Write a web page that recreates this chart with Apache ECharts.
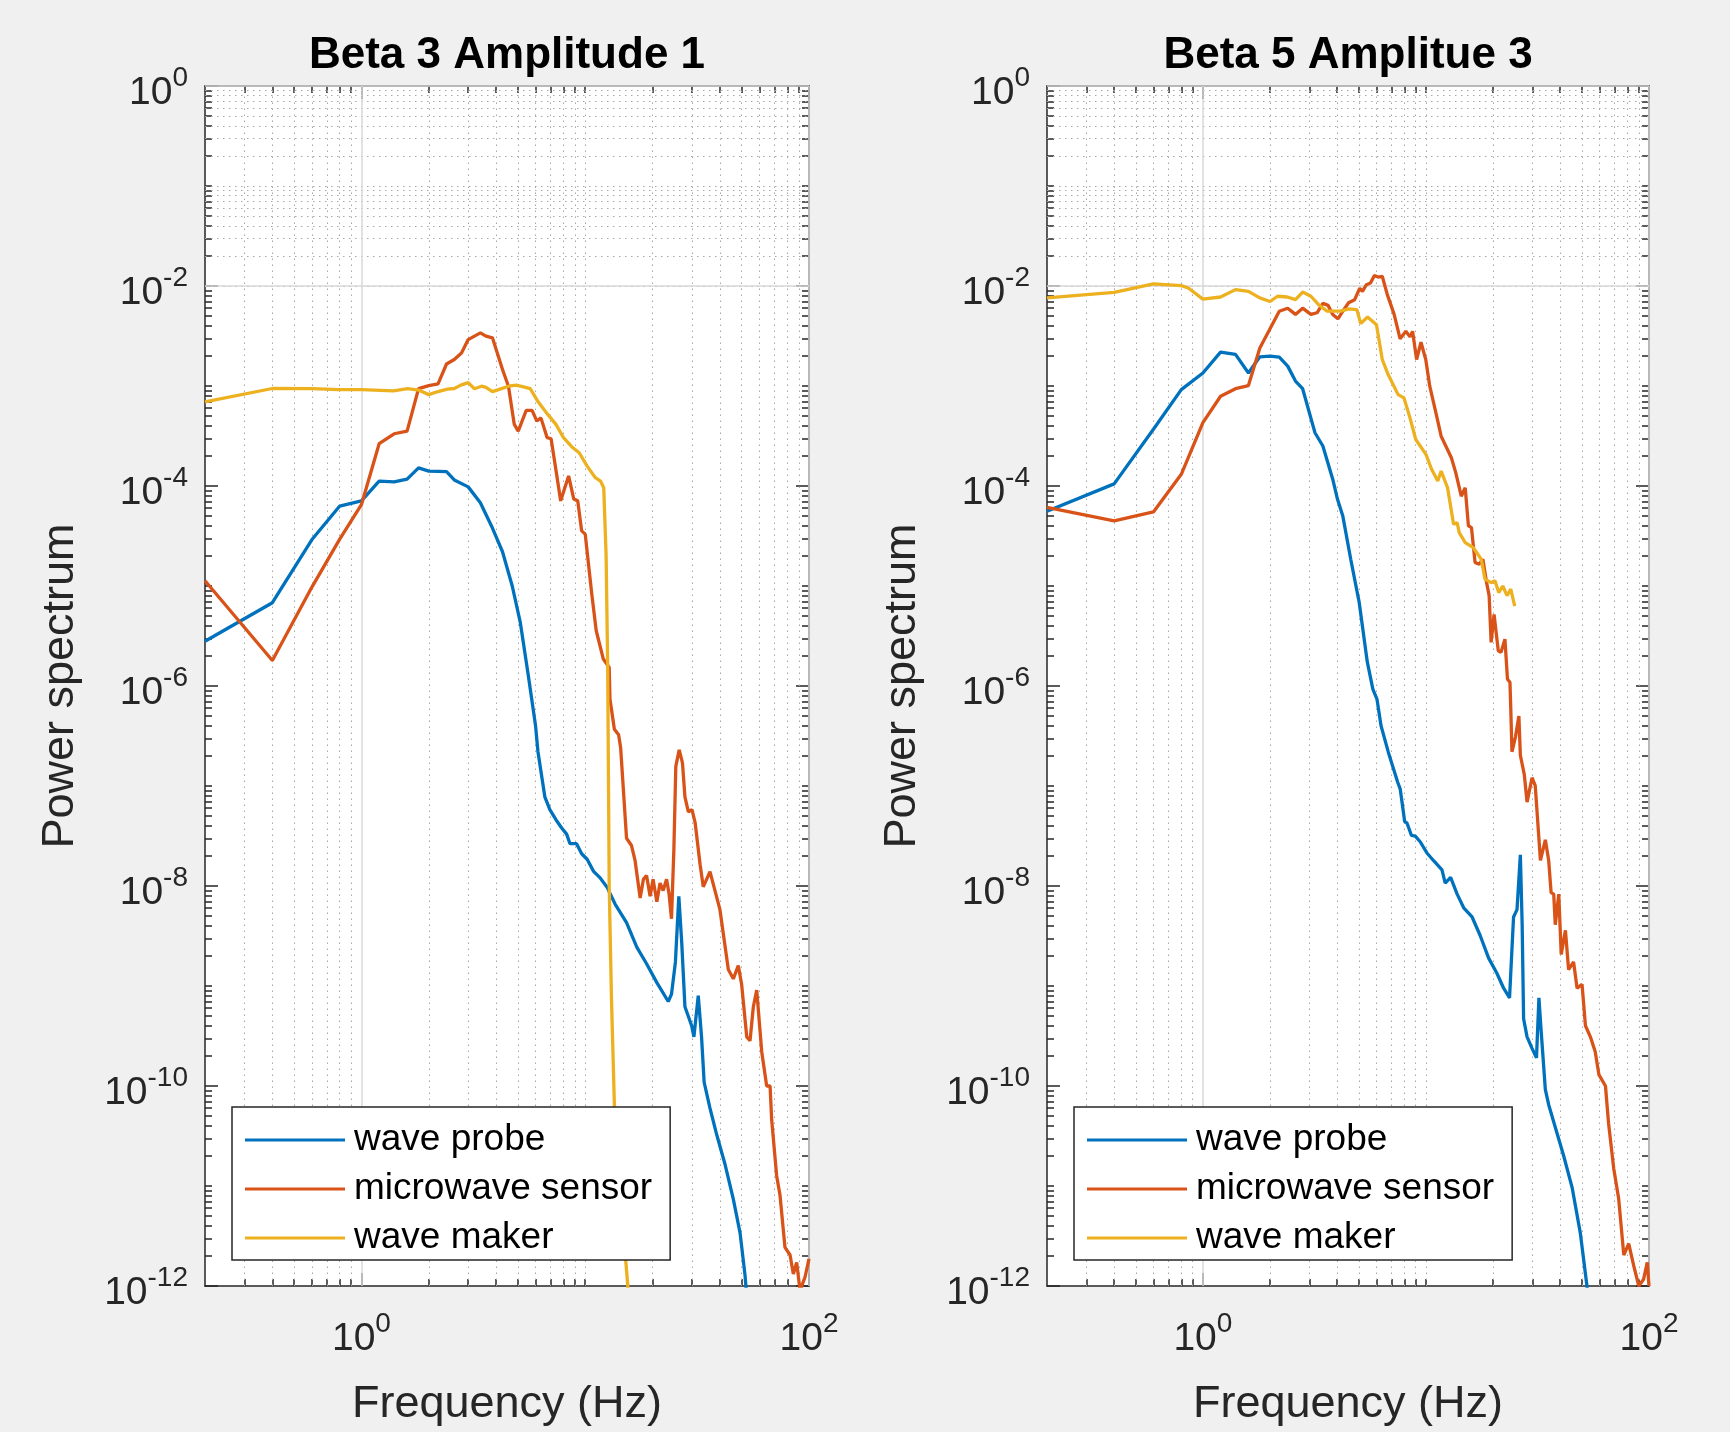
<!DOCTYPE html>
<html>
<head>
<meta charset="utf-8">
<script src="https://cdn.jsdelivr.net/npm/echarts@6/dist/echarts.min.js"></script>
<style>
html,body{margin:0;padding:0;background:#f0f0f0;}
#chart{width:1730px;height:1432px;}
</style>
</head>
<body>
<div id="chart"></div>
<script>
// ---------- texts ----------
const titles = ['Beta 3 Amplitude 1', 'Beta 5 Amplitue 3'];
const seriesNames = ['wave probe', 'microwave sensor', 'wave maker'];
const xAxisName = 'Frequency (Hz)';
const yAxisName = 'Power spectrum';

// ---------- tick labels ----------
const xTickLabels = [1, 100];
const yTickLabels = [1e-12, 1e-10, 1e-8, 1e-6, 1e-4, 1e-2, 1];

// ---------- Beta 3 Amplitude 1 ----------
const b3ProbeFreq = [0.2, 0.4, 0.6, 0.8, 1.0, 1.2, 1.4, 1.6, 1.8, 2.0, 2.4, 2.6, 3.0, 3.4, 3.85, 4.27, 4.72, 5.13, 5.56, 6.0, 6.15, 6.6, 6.95, 7.4, 7.85, 8.26, 8.55, 9.15, 9.64, 10.2, 10.9, 11.6, 12.5, 13.6, 15.3, 17.0, 18.8, 20.9, 23.5, 24.3, 25.3, 26.2, 27.0, 27.9, 29.9, 30.6, 32.0, 33.1, 34.0, 36.1, 38.7, 42.2, 45.9, 49.2, 51.8, 54.0];
const b3ProbePower = [2.8e-6, 6.8e-6, 2.9e-5, 6.3e-5, 7.1e-5, 1.12e-4, 1.1e-4, 1.17e-4, 1.52e-4, 1.41e-4, 1.39e-4, 1.15e-4, 9.8e-5, 6.8e-5, 3.8e-5, 2.2e-5, 1.0e-5, 4.3e-6, 1.3e-6, 4.0e-7, 2.2e-7, 7.8e-8, 5.8e-8, 4.6e-8, 3.8e-8, 3.3e-8, 2.65e-8, 2.65e-8, 2.1e-8, 1.85e-8, 1.4e-8, 1.22e-8, 9.8e-9, 6.6e-9, 4.3e-9, 2.45e-9, 1.67e-9, 1.08e-9, 7.0e-10, 8.3e-10, 1.74e-9, 7.9e-9, 2.7e-9, 6.2e-10, 4.0e-10, 3.1e-10, 8.0e-10, 3.1e-10, 1.09e-10, 6.0e-11, 3.25e-11, 1.63e-11, 7.4e-12, 3.4e-12, 1.27e-12, 4e-13];

const b3MicroFreq = [0.2, 0.4, 0.6, 0.8, 1.0, 1.2, 1.4, 1.6, 1.8, 2.0, 2.2, 2.4, 2.6, 2.8, 3.0, 3.4, 3.6, 3.85, 4.27, 4.54, 4.82, 5.02, 5.45, 5.79, 6.08, 6.34, 6.76, 7.04, 7.39, 7.77, 8.43, 8.89, 9.26, 9.64, 10.0, 10.7, 11.2, 12.05, 12.8, 12.9, 13.5, 14.1, 14.4, 15.3, 16.1, 16.7, 17.6, 18.2, 18.8, 19.5, 20.1, 20.9, 21.6, 22.3, 23.1, 23.7, 24.3, 24.9, 25.4, 26.3, 27.2, 27.9, 28.9, 30.0, 31.0, 32.6, 33.7, 36.1, 38.0, 40.0, 43.6, 45.9, 48.3, 50.0, 52.7, 54.5, 56.4, 58.4, 61.5, 64.7, 67.0, 68.1, 71.7, 74.2, 78.1, 82.3, 85.1, 88.1, 91.2, 96.0, 100];
const b3MicroPower = [1.13e-5, 1.8e-6, 9.7e-6, 2.94e-5, 6.5e-5, 2.65e-4, 3.33e-4, 3.54e-4, 9.4e-4, 1.01e-3, 1.05e-3, 1.66e-3, 1.84e-3, 2.14e-3, 2.91e-3, 3.4e-3, 3.15e-3, 3.03e-3, 1.46e-3, 9.95e-4, 4.13e-4, 3.54e-4, 5.7e-4, 5.7e-4, 4.46e-4, 4.8e-4, 3.04e-4, 2.97e-4, 1.47e-4, 7.1e-5, 1.26e-4, 7.4e-5, 7.1e-5, 3.56e-5, 3.3e-5, 8.3e-6, 3.57e-6, 1.86e-6, 1.53e-6, 7.4e-7, 3.7e-7, 3.26e-7, 2.41e-7, 3.0e-8, 2.54e-8, 1.8e-8, 7.6e-9, 1.17e-8, 1.27e-8, 7.9e-9, 1.17e-8, 6.95e-9, 1.07e-8, 9.0e-9, 1.17e-8, 8.3e-9, 4.7e-9, 2.33e-8, 1.57e-7, 2.3e-7, 1.7e-7, 7.8e-8, 5.5e-8, 5.8e-8, 4.27e-8, 1.65e-8, 9.8e-9, 1.39e-8, 9.0e-9, 5.8e-9, 1.46e-9, 1.18e-9, 1.6e-9, 1.04e-9, 3.1e-10, 2.83e-10, 6.2e-10, 9.1e-10, 2.19e-10, 1.0e-10, 1.0e-10, 4.6e-11, 1.26e-11, 8.1e-12, 2.43e-12, 2.04e-12, 1.32e-12, 1.72e-12, 9e-13, 1.23e-12, 1.87e-12];

const b3MakerFreq = [0.2, 0.4, 0.6, 0.79, 1.0, 1.39, 1.61, 1.8, 2.0, 2.2, 2.42, 2.6, 2.78, 3.0, 3.2, 3.44, 3.6, 3.85, 4.1, 4.54, 4.92, 5.3, 5.68, 6.17, 6.8, 7.4, 8.0, 8.7, 9.4, 10.2, 11.1, 11.7, 12.1, 12.4, 12.6, 12.8, 13.1, 13.5, 14.4, 15.5, 16.2];
const b3MakerPower = [6.95e-4, 9.44e-4, 9.4e-4, 9.2e-4, 9.2e-4, 8.95e-4, 9.4e-4, 9.1e-4, 8.2e-4, 8.8e-4, 9.3e-4, 9.44e-4, 1.02e-3, 1.08e-3, 9.4e-4, 9.95e-4, 9.7e-4, 8.8e-4, 9.2e-4, 9.95e-4, 1.02e-3, 9.8e-4, 9.4e-4, 6.9e-4, 5.2e-4, 4.13e-4, 3.04e-4, 2.47e-4, 2.15e-4, 1.58e-4, 1.21e-4, 1.12e-4, 9.6e-5, 2.0e-5, 1.6e-6, 1.0e-8, 7.6e-10, 6.5e-11, 7.6e-12, 1e-12, 3e-13];

// ---------- Beta 5 Amplitue 3 ----------
const b5ProbeFreq = [0.2, 0.4, 0.6, 0.8, 1.0, 1.2, 1.4, 1.6, 1.8, 2.0, 2.2, 2.4, 2.6, 2.8, 3.18, 3.45, 3.82, 4.01, 4.24, 4.6, 5.02, 5.46, 5.78, 6.03, 6.29, 6.78, 7.47, 7.67, 8.03, 8.22, 8.61, 8.96, 9.42, 10.1, 10.8, 11.8, 12.2, 12.9, 13.8, 14.8, 16.1, 17.5, 19.1, 20.8, 22.3, 23.7, 24.7, 25.6, 26.5, 27.0, 27.4, 28.4, 29.9, 31.3, 32.1, 32.8, 34.3, 35.5, 38.0, 41.4, 45.2, 49.2, 52.7, 55.0];
const b5ProbePower = [5.6e-5, 1.05e-4, 3.7e-4, 9.2e-4, 1.35e-3, 2.18e-3, 2.07e-3, 1.35e-3, 1.96e-3, 1.99e-3, 1.94e-3, 1.58e-3, 1.12e-3, 9.4e-4, 3.41e-4, 2.51e-4, 1.17e-4, 7.4e-5, 5.0e-5, 1.85e-5, 6.85e-6, 1.73e-6, 9.3e-7, 7.4e-7, 4.0e-7, 2.18e-7, 1.09e-7, 9.3e-8, 4.4e-8, 4.27e-8, 3.2e-8, 3.15e-8, 2.77e-8, 2.14e-8, 1.8e-8, 1.45e-8, 1.07e-8, 1.22e-8, 8.3e-9, 6.0e-9, 4.9e-9, 3.2e-9, 1.9e-9, 1.34e-9, 9.5e-10, 7.6e-10, 4.9e-9, 5.8e-9, 2.05e-8, 4.1e-9, 4.7e-10, 3.1e-10, 2.38e-10, 1.91e-10, 7.6e-10, 3.7e-10, 9.2e-11, 6.5e-11, 3.87e-11, 2.02e-11, 9.7e-12, 3.4e-12, 1.0e-12, 4e-13];

const b5MicroFreq = [0.2, 0.4, 0.6, 0.8, 1.0, 1.2, 1.4, 1.6, 1.8, 2.2, 2.4, 2.6, 2.8, 3.05, 3.25, 3.45, 3.64, 3.82, 4.03, 4.24, 4.5, 4.79, 5.05, 5.19, 5.41, 5.64, 5.87, 6.11, 6.37, 6.71, 7.2, 7.66, 8.13, 8.48, 8.71, 9.08, 9.5, 9.98, 10.4, 11.0, 11.7, 13.0, 13.6, 14.4, 15.0, 15.5, 16.0, 16.6, 17.3, 18.0, 18.7, 19.2, 19.6, 20.2, 21.1, 21.7, 22.6, 23.2, 23.8, 24.0, 24.3, 25.2, 26.1, 26.5, 27.6, 28.4, 29.9, 30.9, 32.6, 34.3, 35.5, 36.4, 37.4, 38.0, 39.4, 40.4, 42.2, 43.6, 45.9, 47.6, 50.1, 51.9, 54.6, 57.4, 59.6, 63.8, 65.9, 69.5, 73.1, 77.1, 81.1, 85.5, 90.0, 94.6, 98.2, 100];
const b5MicroPower = [6.1e-5, 4.48e-5, 5.5e-5, 1.31e-4, 4.3e-4, 7.9e-4, 9.4e-4, 1.01e-3, 2.4e-3, 5.6e-3, 6.0e-3, 5.2e-3, 6.0e-3, 5.2e-3, 5.4e-3, 6.7e-3, 6.4e-3, 5.2e-3, 4.7e-3, 5.6e-3, 6.8e-3, 7.3e-3, 9.5e-3, 8.85e-3, 1.03e-2, 1.07e-2, 1.27e-2, 1.23e-2, 1.25e-2, 8.2e-3, 5.2e-3, 2.96e-3, 3.52e-3, 3.1e-3, 3.52e-3, 1.84e-3, 2.74e-3, 1.84e-3, 9.95e-4, 5.8e-4, 3.15e-4, 1.92e-4, 1.36e-4, 7.9e-5, 9.6e-5, 4.0e-5, 3.84e-5, 1.72e-5, 1.65e-5, 1.85e-5, 1.08e-5, 8.0e-6, 2.73e-6, 5.2e-6, 2.25e-6, 2.17e-6, 2.94e-6, 1.17e-6, 1.09e-6, 6.0e-7, 2.2e-7, 3.1e-7, 5.0e-7, 2.03e-7, 1.3e-7, 6.9e-8, 1.21e-7, 1.01e-7, 1.8e-8, 2.9e-8, 1.8e-8, 8.6e-9, 8.3e-9, 4.1e-9, 8.3e-9, 2.07e-9, 3.6e-9, 1.46e-9, 1.74e-9, 9.5e-10, 1.04e-9, 4.0e-10, 3.1e-10, 2.2e-10, 1.3e-10, 1.0e-10, 4.2e-11, 1.49e-11, 7.5e-12, 2.04e-12, 2.65e-12, 1.58e-12, 1.0e-12, 1.17e-12, 1.72e-12, 1.0e-12];

const b5MakerFreq = [0.2, 0.4, 0.6, 0.8, 0.86, 1.0, 1.2, 1.4, 1.6, 1.8, 2.0, 2.16, 2.39, 2.6, 2.8, 3.05, 3.3, 3.6, 4.15, 4.5, 4.9, 5.1, 5.47, 6.0, 6.37, 6.77, 7.5, 7.97, 8.48, 9.0, 10.0, 10.6, 11.3, 11.7, 12.5, 13.3, 13.8, 14.1, 15.0, 16.3, 17.7, 18.4, 19.6, 20.4, 21.2, 22.1, 23.1, 24.0, 25.0];
const b5MakerPower = [7.6e-3, 8.65e-3, 1.05e-2, 1.01e-2, 9.55e-3, 7.4e-3, 7.76e-3, 9.2e-3, 8.85e-3, 7.6e-3, 7.0e-3, 7.9e-3, 7.76e-3, 7.3e-3, 8.7e-3, 7.9e-3, 6.5e-3, 5.6e-3, 5.6e-3, 5.9e-3, 5.8e-3, 4.2e-3, 4.9e-3, 4.1e-3, 1.84e-3, 1.3e-3, 8.2e-4, 7.6e-4, 4.8e-4, 2.92e-4, 2.07e-4, 1.47e-4, 1.12e-4, 1.41e-4, 9.6e-5, 4.14e-5, 4.3e-5, 3.42e-5, 2.72e-5, 2.42e-5, 1.85e-5, 1.17e-5, 1.08e-5, 1.13e-5, 8.6e-6, 1.0e-5, 8.0e-6, 9.3e-6, 6.3e-6];

// ---------- styling ----------
const FONT = '"Liberation Sans", Arial, Helvetica, sans-serif';
const AX = '#262626';
const COLORS = ['#0072BD', '#D95319', '#EDB120'];
const X_MIN = 0.2, X_MAX = 100, Y_MIN = 1e-12, Y_MAX = 1;

// minor tick positions (1..9 x decade, excluding labelled ticks)
function minorTicks(eLo, eHi, lo, hi, majors) {
  const out = [];
  for (let e = eLo; e <= eHi; e++) {
    for (let m = 1; m <= 9; m++) {
      const v = Number(m + 'e' + e);
      if (v > lo && v < hi && majors.indexOf(v) < 0) out.push(v);
    }
  }
  return out;
}
const xMinorTicks = minorTicks(-1, 1, X_MIN, X_MAX, xTickLabels);
const yMinorTicks = minorTicks(-12, -1, Y_MIN, Y_MAX, yTickLabels);

function pairs(f, p) { return f.map((v, i) => [v, p[i]]); }

const rich = {
  b: { fontFamily: FONT, fontSize: 39, color: AX, lineHeight: 42, verticalAlign: 'bottom' },
  s: { fontFamily: FONT, fontSize: 28, color: AX, lineHeight: 28, verticalAlign: 'bottom', padding: [0, 0, 21, 0] }
};
function expLabel(v) {
  const e = Math.round(Math.log10(v));
  return '{b|10}{s|' + e + '}';
}

const grids = [
  { left: 205, top: 86, width: 604, height: 1202 },
  { left: 1047, top: 86, width: 602, height: 1202 }
];

const tickLine = { color: AX, width: 1.5 };
const axisLineOn = { show: true, onZero: false, lineStyle: { color: AX, width: 1.5 } };
const axisLineOff = { show: false, onZero: false };

function makeX(g) {
  const base = { type: 'log', logBase: 10, min: X_MIN, max: X_MAX, gridIndex: g, splitLine: { show: false }, axisLabel: { show: false } };
  return [
    Object.assign({}, base, {
      position: 'bottom', axisLine: axisLineOn,
      axisTick: { show: true, inside: true, length: 13, lineStyle: tickLine, customValues: xTickLabels },
      axisLabel: { show: true, customValues: xTickLabels, margin: 31, formatter: expLabel, rich: rich },
      name: xAxisName, nameLocation: 'middle', nameGap: 96,
      nameTextStyle: { fontFamily: FONT, fontSize: 45, color: AX }
    }),
    Object.assign({}, base, {
      position: 'top', axisLine: axisLineOn,
      axisTick: { show: true, inside: true, length: 13, lineStyle: tickLine, customValues: xTickLabels }
    }),
    Object.assign({}, base, {
      position: 'bottom', axisLine: axisLineOff,
      axisTick: { show: true, inside: true, length: 7, lineStyle: tickLine, customValues: xMinorTicks }
    }),
    Object.assign({}, base, {
      position: 'top', axisLine: axisLineOff,
      axisTick: { show: true, inside: true, length: 7, lineStyle: tickLine, customValues: xMinorTicks }
    })
  ];
}
function makeY(g) {
  const base = { type: 'log', logBase: 10, min: Y_MIN, max: Y_MAX, gridIndex: g, splitLine: { show: false }, axisLabel: { show: false } };
  return [
    Object.assign({}, base, {
      position: 'left', axisLine: axisLineOn,
      axisTick: { show: true, inside: true, length: 13, lineStyle: tickLine, customValues: yTickLabels },
      axisLabel: { show: true, customValues: yTickLabels, margin: 17, formatter: expLabel, rich: rich, padding: [12, 0, 0, 0] },
      name: yAxisName, nameLocation: 'middle', nameGap: 122,
      nameTextStyle: { fontFamily: FONT, fontSize: 45, color: AX }
    }),
    Object.assign({}, base, {
      position: 'right', axisLine: axisLineOn,
      axisTick: { show: true, inside: true, length: 13, lineStyle: tickLine, customValues: yTickLabels }
    }),
    Object.assign({}, base, {
      position: 'left', axisLine: axisLineOff,
      axisTick: { show: true, inside: true, length: 7, lineStyle: tickLine, customValues: yMinorTicks }
    }),
    Object.assign({}, base, {
      position: 'right', axisLine: axisLineOff,
      axisTick: { show: true, inside: true, length: 7, lineStyle: tickLine, customValues: yMinorTicks }
    })
  ];
}

const minorGrid = { color: '#a8a8a8', width: 1, type: [1.5, 4.5] };
const majorGrid = { color: '#d8d8d8', width: 1.5, type: 'solid' };

function gridSeries(g) {
  const lines = [];
  xMinorTicks.forEach(v => lines.push({ xAxis: v, lineStyle: minorGrid }));
  yMinorTicks.forEach(v => lines.push({ yAxis: v, lineStyle: minorGrid }));
  xTickLabels.forEach(v => lines.push({ xAxis: v, lineStyle: majorGrid }));
  yTickLabels.forEach(v => lines.push({ yAxis: v, lineStyle: majorGrid }));
  return {
    type: 'line', name: 'grid' + g, xAxisIndex: g * 4, yAxisIndex: g * 4,
    data: [[1, 1e-6]], symbol: 'none', showSymbol: false, lineStyle: { opacity: 0 }, silent: true, z: 1,
    markLine: { silent: true, symbol: ['none', 'none'], label: { show: false }, animation: false, z: 1, data: lines }
  };
}

function dataSeries(g, idx, f, p) {
  return {
    type: 'line', name: seriesNames[idx], xAxisIndex: g * 4, yAxisIndex: g * 4,
    data: pairs(f, p), showSymbol: false, symbol: 'none', clip: true, z: 3,
    lineStyle: { color: COLORS[idx], width: 3.3 }, itemStyle: { color: COLORS[idx] }
  };
}

function legendFor(left) {
  return {
    data: seriesNames, orient: 'vertical', left: left, top: 1107,
    icon: 'rect', itemWidth: 100, itemHeight: 3, itemGap: 9,
    padding: [13, 18, 2, 13], backgroundColor: '#ffffff', borderColor: AX, borderWidth: 1.5, borderRadius: 0,
    selectedMode: false,
    textStyle: { fontFamily: FONT, fontSize: 37, color: '#000', lineHeight: 40, padding: [0, 0, 0, 4] }
  };
}

const option = {
  backgroundColor: '#f0f0f0',
  animation: false,
  textStyle: { fontFamily: FONT },
  title: [
    { text: titles[0], left: 507, top: 34, textAlign: 'center', padding: 0, textStyle: { fontFamily: FONT, fontSize: 44, fontWeight: 'bold', color: '#000' } },
    { text: titles[1], left: 1348, top: 34, textAlign: 'center', padding: 0, textStyle: { fontFamily: FONT, fontSize: 44, fontWeight: 'bold', color: '#000' } }
  ],
  legend: [legendFor(232), legendFor(1074)],
  grid: grids.map(g => Object.assign({ show: true, backgroundColor: '#ffffff', borderWidth: 0, containLabel: false }, g)),
  xAxis: makeX(0).concat(makeX(1)),
  yAxis: makeY(0).concat(makeY(1)),
  series: [
    gridSeries(0), gridSeries(1),
    dataSeries(0, 0, b3ProbeFreq, b3ProbePower),
    dataSeries(0, 1, b3MicroFreq, b3MicroPower),
    dataSeries(0, 2, b3MakerFreq, b3MakerPower),
    dataSeries(1, 0, b5ProbeFreq, b5ProbePower),
    dataSeries(1, 1, b5MicroFreq, b5MicroPower),
    dataSeries(1, 2, b5MakerFreq, b5MakerPower)
  ]
};

const chart = echarts.init(document.getElementById('chart'), null, { renderer: 'canvas' });
chart.setOption(option);
</script>
</body>
</html>
